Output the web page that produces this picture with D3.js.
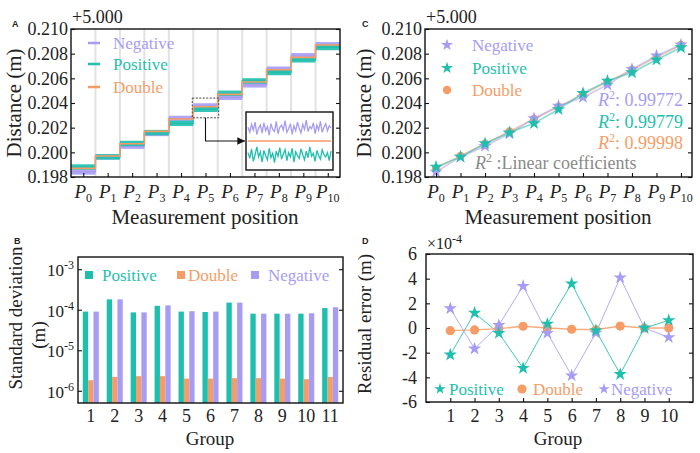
<!DOCTYPE html>
<html>
<head>
<meta charset="utf-8">
<script src="https://cdn.jsdelivr.net/npm/d3@7"></script>
<style>
body { margin: 0; background: #fff; }
</style>
</head>
<body>
<svg id="fig" width="700" height="453"></svg>
<script>
"use strict";
// ---- data ----
var positions = ["0", "1", "2", "3", "4", "5", "6", "7", "8", "9", "10"];
var doubleDist = [0.1987, 0.1997, 0.2007, 0.2017, 0.2027, 0.2037, 0.2047, 0.2057, 0.2067, 0.2077, 0.2087];
var positiveDist = [0.19881, 0.19963, 0.20072, 0.20160, 0.20235, 0.20349, 0.20479, 0.20579, 0.20647, 0.20750, 0.20850];
var negativeDist = [0.19841, 0.19963, 0.20050, 0.20153, 0.20275, 0.20376, 0.20446, 0.20547, 0.20674, 0.20783, 0.20872];
var noiseHalf = 0.00022;
var yTicksA = [0.198, 0.200, 0.202, 0.204, 0.206, 0.208, 0.210];
var r2Values = ["0.99772", "0.99779", "0.99998"];

// inset of P5 (x1e-4 m, offset from the double signal)
var insetNegative = [1.9, 1.2, 2.3, 1.5, 2.6, 0.9, 1.8, 2.2, 1.1, 2.5, 1.4, 2.0, 0.8, 2.4, 1.6, 1.3, 2.7, 1.0, 1.9, 2.2, 1.5, 2.8, 1.2, 1.7,
    2.4, 0.9, 2.1, 1.4, 2.6, 1.8, 1.1, 2.3, 1.6, 2.9, 1.3, 2.0, 1.7, 2.5, 1.0, 2.2, 1.5, 2.7, 1.2, 1.9, 2.4, 1.4, 2.1, 1.8];
var insetPositive = [-1.6, -2.4, -1.1, -2.8, -1.9, -0.8, -2.2, -1.5, -2.9, -1.3, -2.0, -2.6, -1.0, -2.3, -1.7, -3.0, -1.4, -2.1, -0.9, -2.5, -1.8, -1.2, -2.7, -1.6,
    -2.2, -1.0, -2.9, -1.5, -2.0, -2.4, -1.1, -1.9, -2.6, -1.4, -2.3, -0.8, -2.1, -1.7, -2.8, -1.3, -2.0, -2.5, -1.2, -1.9, -2.2, -1.6, -2.7, -1.4];

var groupsB = ["1", "2", "3", "4", "5", "6", "7", "8", "9", "10", "11"];
var sdPositive = [9.0e-5, 1.8e-4, 8.6e-5, 1.25e-4, 9.0e-5, 8.8e-5, 1.5e-4, 8.0e-5, 8.0e-5, 8.0e-5, 1.1e-4];
var sdDouble = [1.83e-6, 2.2e-6, 2.3e-6, 2.3e-6, 2.0e-6, 2.0e-6, 2.05e-6, 2.05e-6, 2.0e-6, 1.93e-6, 2.2e-6];
var sdNegative = [9.0e-5, 1.8e-4, 8.6e-5, 1.28e-4, 9.2e-5, 9.0e-5, 1.5e-4, 8.0e-5, 8.0e-5, 8.2e-5, 1.15e-4];
var yTicksB = [1e-6, 1e-5, 1e-4, 1e-3];

var groupsD = [1, 2, 3, 4, 5, 6, 7, 8, 9, 10];
var resPositive = [-2.17, 1.22, -0.41, -3.26, 0.33, 3.59, -0.2, -3.75, 0, 0.62];
var resDouble = [-0.22, -0.16, -0.05, 0.14, 0, -0.1, -0.14, 0.16, 0, 0];
var resNegative = [1.58, -1.68, 0.22, 3.4, -0.41, -3.86, -0.4, 4.08, 0, -0.76];
var yTicksD = [-6, -4, -2, 0, 2, 4, 6];

// ---- style ----
var serif = "'Liberation Serif','Times New Roman',serif";
var sans = "'Liberation Sans',Arial,sans-serif";
var colPos = "#1fbfad", colDbl = "#f69d67", colNeg = "#a79cf4";

var svg = d3.select("#fig");

function styleAxis(g, size) {
    g.attr("font-family", serif).attr("font-size", size);
    g.select(".domain").remove();
    g.selectAll(".tick line").attr("stroke", "#111").attr("stroke-width", 1.1);
    g.selectAll(".tick text").attr("fill", "#222");
}
function frame(x0, y0, x1, y1) {
    svg.append("rect").attr("x", x0).attr("y", y0)
            .attr("width", x1 - x0).attr("height", y1 - y0)
            .attr("fill", "none").attr("stroke", "#111").attr("stroke-width", 1.4);
}
function label(txt, x, y, size, opts) {
    var t = svg.append("text").attr("x", x).attr("y", y)
            .attr("font-family", serif).attr("font-size", size).attr("fill", "#222").text(txt);
    if (opts) {
        Object.keys(opts).forEach(function (k) { t.attr(k, opts[k]); });
    }
    return t;
}
function panelLetter(txt, x, y) {
    svg.append("text").attr("x", x).attr("y", y).attr("font-family", sans)
            .attr("font-weight", "bold").attr("font-size", 9).attr("fill", "#222").text(txt);
}
function stepPts(vals) {
    return vals.flatMap(function (v, i) { return [[i, v], [i + 1, v]]; });
}
function pLabels(g, xs, y) {
    g.selectAll(null).data(positions).enter().append("text")
            .attr("x", function (d, i) { return xs(i); })
            .attr("y", y).attr("text-anchor", "middle")
            .attr("font-family", serif).attr("font-size", 19).attr("fill", "#222")
            .each(function (d) {
                var t = d3.select(this);
                t.append("tspan").attr("font-style", "italic").text("P");
                t.append("tspan").attr("font-size", 12).attr("dy", 4).text(d);
            });
}

// ================= Panel A =================
var xA = d3.scaleLinear().domain([0, 11]).range([71, 340]);
var yA = d3.scaleLinear().domain([0.198, 0.210]).range([177, 29]);
var gA = svg.append("g");

gA.selectAll(null).data(d3.range(1, positions.length)).enter().append("line")
        .attr("x1", function (d) { return xA(d); }).attr("x2", function (d) { return xA(d); })
        .attr("y1", 29).attr("y2", 177).attr("stroke", "#e2e2e2").attr("stroke-width", 2);

var stepLine = d3.line().x(function (d) { return xA(d[0]); }).y(function (d) { return yA(d[1]); });

[[negativeDist, colNeg], [positiveDist, colPos]].forEach(function (s) {
    gA.selectAll(null).data(s[0]).enter().append("rect")
            .attr("x", function (d, i) { return xA(i); })
            .attr("width", function (d, i) { return xA(i + 1) - xA(i); })
            .attr("y", function (d) { return yA(d + noiseHalf); })
            .attr("height", function (d) { return yA(d - noiseHalf) - yA(d + noiseHalf); })
            .attr("fill", s[1]).attr("opacity", 0.9);
    gA.append("path").attr("d", stepLine(stepPts(s[0]))).attr("fill", "none")
            .attr("stroke", s[1]).attr("stroke-width", 1.2);
});
gA.append("path").attr("d", stepLine(stepPts(doubleDist))).attr("fill", "none")
        .attr("stroke", colDbl).attr("stroke-width", 1.6);

// zoom box around P5 + arrow + inset
var boxX0 = xA(5) - 1, boxX1 = xA(6) + 1;
var boxY0 = yA(doubleDist[5] + 0.0007), boxY1 = yA(doubleDist[5] - 0.0009);
gA.append("rect").attr("x", boxX0).attr("y", boxY0).attr("width", boxX1 - boxX0).attr("height", boxY1 - boxY0)
        .attr("fill", "none").attr("stroke", "#444").attr("stroke-width", 1).attr("stroke-dasharray", "2,1.5");

var xI = d3.scaleLinear().domain([0, insetNegative.length - 1]).range([248, 331]);
var yI = d3.scaleLinear().domain([-4, 4]).range([170, 112]);
gA.append("rect").attr("x", 246).attr("y", 112).attr("width", 87).attr("height", 58)
        .attr("fill", "#fff").attr("stroke", "#111").attr("stroke-width", 1.4);
var insetLine = d3.line().x(function (d, i) { return xI(i); }).y(function (d) { return yI(d); });
gA.append("path").attr("d", insetLine(insetNegative)).attr("fill", "none").attr("stroke", colNeg).attr("stroke-width", 1.3);
gA.append("path").attr("d", insetLine(insetPositive)).attr("fill", "none").attr("stroke", colPos).attr("stroke-width", 1.3);
gA.append("line").attr("x1", xI(0)).attr("x2", xI(insetNegative.length - 1))
        .attr("y1", yI(0)).attr("y2", yI(0)).attr("stroke", colDbl).attr("stroke-width", 1.6);

svg.append("defs").append("marker").attr("id", "arr").attr("viewBox", "0 0 10 10")
        .attr("refX", 10).attr("refY", 5).attr("markerWidth", 7).attr("markerHeight", 7)
        .attr("orient", "auto").append("path").attr("d", "M0,0L10,5L0,10z").attr("fill", "#111");
gA.append("path").attr("d", "M" + ((boxX0 + boxX1) / 2) + "," + boxY1 + "V" + yI(0) + "H245")
        .attr("fill", "none").attr("stroke", "#111").attr("stroke-width", 1.1).attr("marker-end", "url(#arr)");

frame(71, 29, 340, 177);
styleAxis(gA.append("g").attr("transform", "translate(71,0)")
        .call(d3.axisLeft(yA).tickValues(yTicksA).tickFormat(d3.format(".3f")).tickSize(-4).tickPadding(3)), 18);
styleAxis(gA.append("g").attr("transform", "translate(340,0)")
        .call(d3.axisRight(yA).tickValues(yTicksA).tickFormat("").tickSize(-4)), 18);
styleAxis(gA.append("g").attr("transform", "translate(0,177)")
        .call(d3.axisBottom(xA).tickValues(positions.map(function (d, i) { return i + 0.5; })).tickFormat("").tickSize(-4)), 18);
pLabels(gA, function (i) { return xA(i + 0.5); }, 198);

label("+5.000", 72, 23, 18);
label("Measurement position", 205, 224, 21, {"text-anchor": "middle"});
label("Distance (m)", 0, 0, 21, {"text-anchor": "middle", "transform": "translate(21,103) rotate(-90)"});
panelLetter("A", 12, 27);

[["Negative", colNeg, 43], ["Positive", colPos, 64], ["Double", colDbl, 87]].forEach(function (l) {
    gA.append("line").attr("x1", 88).attr("x2", 100).attr("y1", l[2]).attr("y2", l[2])
            .attr("stroke", l[1]).attr("stroke-width", 2.5);
    label(l[0], 113, l[2] + 6, 17, {"fill": l[1]});
});

// ================= Panel C =================
var xC = d3.scaleLinear().domain([-0.45, 10.45]).range([425, 692]);
var yC = d3.scaleLinear().domain([0.198, 0.210]).range([177, 29]);
var gC = svg.append("g");
var lineC = d3.line().x(function (d, i) { return xC(i); }).y(function (d) { return yC(d); });
[[doubleDist, colDbl], [negativeDist, colNeg], [positiveDist, colPos]].forEach(function (s) {
    gC.append("path").attr("d", lineC(s[0])).attr("fill", "none")
            .attr("stroke", s[1]).attr("stroke-width", 1.6).attr("opacity", 0.55);
});
gC.selectAll(null).data(doubleDist).enter().append("circle")
        .attr("cx", function (d, i) { return xC(i); }).attr("cy", function (d) { return yC(d); })
        .attr("r", 4.2).attr("fill", colDbl);
var star = d3.symbol().type(d3.symbolStar);
[[negativeDist, colNeg], [positiveDist, colPos]].forEach(function (s) {
    gC.selectAll(null).data(s[0]).enter().append("path")
            .attr("d", star.size(55)())
            .attr("transform", function (d, i) { return "translate(" + xC(i) + "," + yC(d) + ")"; })
            .attr("fill", s[1]);
});

frame(425, 29, 692, 177);
styleAxis(gC.append("g").attr("transform", "translate(425,0)")
        .call(d3.axisLeft(yC).tickValues(yTicksA).tickFormat(d3.format(".3f")).tickSize(-4).tickPadding(3)), 18);
styleAxis(gC.append("g").attr("transform", "translate(692,0)")
        .call(d3.axisRight(yC).tickValues(yTicksA).tickFormat("").tickSize(-4)), 18);
styleAxis(gC.append("g").attr("transform", "translate(0,177)")
        .call(d3.axisBottom(xC).tickValues(positions.map(function (d, i) { return i; })).tickFormat("").tickSize(-4)), 18);
pLabels(gC, function (i) { return xC(i); }, 198);

label("+5.000", 426, 23, 18);
label("Measurement position", 558, 224, 21, {"text-anchor": "middle"});
label("Distance (m)", 0, 0, 21, {"text-anchor": "middle", "transform": "translate(371,103) rotate(-90)"});
panelLetter("C", 362, 27);

[["Negative", colNeg, 45, "star"], ["Positive", colPos, 68, "star"], ["Double", colDbl, 90, "circle"]].forEach(function (l) {
    if (l[3] === "star") {
        gC.append("path").attr("d", star.size(45)()).attr("transform", "translate(447," + l[2] + ")").attr("fill", l[1]);
    } else {
        gC.append("circle").attr("cx", 447).attr("cy", l[2]).attr("r", 4.2).attr("fill", l[1]);
    }
    label(l[0], 472, l[2] + 6, 17, {"fill": l[1]});
});
[[colNeg, 106], [colPos, 128], [colDbl, 149]].forEach(function (l, i) {
    var t = label("", 683, l[1], 18, {"fill": l[0], "text-anchor": "end"});
    t.append("tspan").attr("font-style", "italic").text("R");
    t.append("tspan").attr("font-size", 12).attr("dy", -7).text("2");
    t.append("tspan").attr("dy", 7).text(": " + r2Values[i]);
});
var rl = label("", 475, 169, 18, {"fill": "#8a8a8a"});
rl.append("tspan").attr("font-style", "italic").text("R");
rl.append("tspan").attr("font-size", 12).attr("dy", -7).text("2");
rl.append("tspan").attr("dy", 7).text(" :Linear coefficients");

// ================= Panel B =================
var xB = d3.scaleBand().domain(groupsB).range([78, 343]).paddingInner(0.33).paddingOuter(0.2);
var xBi = d3.scaleBand().domain(["pos", "dbl", "neg"]).range([0, xB.bandwidth()]);
var yB = d3.scaleLog().domain([5e-7, 2e-3]).range([403, 257]);
var gB = svg.append("g");
[["pos", sdPositive, colPos], ["dbl", sdDouble, colDbl], ["neg", sdNegative, colNeg]].forEach(function (s) {
    gB.selectAll(null).data(s[1]).enter().append("rect")
            .attr("x", function (d, i) { return xB(groupsB[i]) + xBi(s[0]); })
            .attr("width", xBi.bandwidth())
            .attr("y", function (d) { return yB(d); })
            .attr("height", function (d) { return yB.range()[0] - yB(d); })
            .attr("fill", s[2]);
});
frame(78, 257, 343, 403);
var axB = gB.append("g").attr("transform", "translate(78,0)")
        .call(d3.axisLeft(yB).tickValues(yTicksB).tickFormat("").tickSize(-4));
styleAxis(axB, 17);
axB.selectAll(".tick").append("text").attr("x", -4).attr("dy", "0.38em")
        .attr("text-anchor", "end").attr("fill", "#222")
        .each(function (d) {
            var t = d3.select(this);
            t.append("tspan").text("10");
            t.append("tspan").attr("font-size", 12).attr("dy", -7).text("-" + Math.round(-Math.log10(d)));
        });
styleAxis(gB.append("g").attr("transform", "translate(343,0)")
        .call(d3.axisRight(yB).tickValues(yTicksB).tickFormat("").tickSize(-4)), 17);
styleAxis(gB.append("g").attr("transform", "translate(0,403)")
        .call(d3.axisBottom(xB).tickSize(0).tickPadding(6)), 18);

label("Group", 210, 445, 19, {"text-anchor": "middle"});
label("Standard deviation", 0, 0, 19, {"text-anchor": "middle", "transform": "translate(22,318) rotate(-90)"});
label("(m)", 0, 0, 19, {"text-anchor": "middle", "transform": "translate(45,335) rotate(-90)"});
panelLetter("B", 14, 244);

[["Positive", colPos, 85, 102], ["Double", colDbl, 177, 188], ["Negative", colNeg, 251, 268]].forEach(function (l) {
    gB.append("rect").attr("x", l[2]).attr("y", 271).attr("width", 8).attr("height", 8).attr("fill", l[1]);
    label(l[0], l[3], 281, 17, {"fill": l[1]});
});

// ================= Panel D =================
var xD = d3.scaleLinear().domain([0, 11]).range([426, 693]);
var yD = d3.scaleLinear().domain([-6, 6]).range([402, 254]);
var gD = svg.append("g");
var lineD = d3.line().x(function (d, i) { return xD(groupsD[i]); }).y(function (d) { return yD(d); });
[[resPositive, colPos, 1], [resNegative, colNeg, 1], [resDouble, colDbl, 1.3]].forEach(function (s) {
    gD.append("path").attr("d", lineD(s[0])).attr("fill", "none")
            .attr("stroke", s[1]).attr("stroke-width", s[2]).attr("opacity", 0.85);
});
gD.selectAll(null).data(resDouble).enter().append("circle")
        .attr("cx", function (d, i) { return xD(groupsD[i]); }).attr("cy", function (d) { return yD(d); })
        .attr("r", 4.6).attr("fill", colDbl);
[[resNegative, colNeg], [resPositive, colPos]].forEach(function (s) {
    gD.selectAll(null).data(s[0]).enter().append("path")
            .attr("d", star.size(55)())
            .attr("transform", function (d, i) { return "translate(" + xD(groupsD[i]) + "," + yD(d) + ")"; })
            .attr("fill", s[1]);
});
frame(426, 254, 693, 402);
styleAxis(gD.append("g").attr("transform", "translate(426,0)")
        .call(d3.axisLeft(yD).tickValues(yTicksD).tickFormat(function (d) { return d < 0 ? "-" + (-d) : d; })
                .tickSize(-4).tickPadding(9)), 18);
styleAxis(gD.append("g").attr("transform", "translate(693,0)")
        .call(d3.axisRight(yD).tickValues(yTicksD).tickFormat("").tickSize(-4)), 18);
styleAxis(gD.append("g").attr("transform", "translate(0,402)")
        .call(d3.axisBottom(xD).tickValues(groupsD).tickSize(-4).tickPadding(7)), 18);

var ex = label("\u00d710", 427, 249, 16);
ex.append("tspan").attr("font-size", 12).attr("dy", -6).text("-4");
label("Group", 558, 445, 19, {"text-anchor": "middle"});
label("Residual error (m)", 0, 0, 19, {"text-anchor": "middle", "transform": "translate(371,324) rotate(-90)"});
panelLetter("D", 362, 244);

[["Positive", colPos, 440, 449, "star"], ["Double", colDbl, 522, 533, "circle"], ["Negative", colNeg, 604, 611, "star"]].forEach(function (l) {
    if (l[4] === "star") {
        gD.append("path").attr("d", star.size(40)()).attr("transform", "translate(" + l[2] + ",389)").attr("fill", l[1]);
    } else {
        gD.append("circle").attr("cx", l[2]).attr("cy", 389).attr("r", 4.6).attr("fill", l[1]);
    }
    label(l[0], l[3], 395, 17, {"fill": l[1]});
});
</script>
</body>
</html>
